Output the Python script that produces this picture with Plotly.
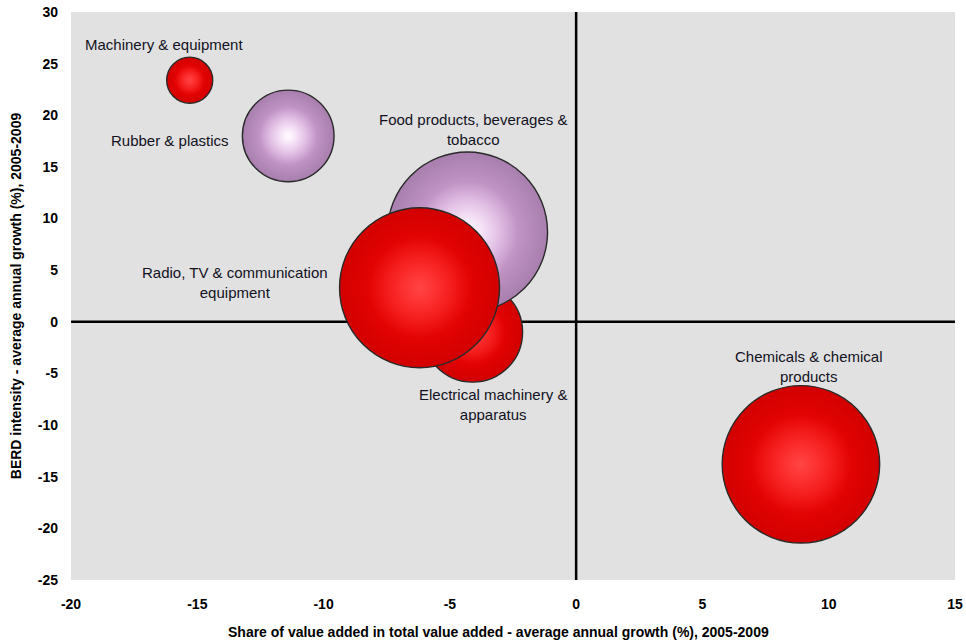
import plotly.graph_objects as go

# Sector bubbles: growth in value-added share (x) vs BERD intensity growth (y)
sectors = [
    "Machinery & equipment",
    "Rubber & plastics",
    "Electrical machinery &<br>apparatus",
    "Food products, beverages &<br>tobacco",
    "Radio, TV & communication<br>equipment",
    "Chemicals & chemical<br>products",
]
va_share_growth = [-15.3, -11.4, -4.1, -4.3, -6.2, 8.9]
berd_growth = [23.4, 18.0, -1.0, 8.7, 3.3, -13.8]
bubble_weight = [5.3, 21.0, 25.0, 64.0, 64.0, 62.0]
sector_group = ["red", "pink", "red", "pink", "red", "red"]

# label anchor positions (data units)
label_x = [-16.3, -16.1, -3.3, -4.1, -13.5, 9.2]
label_y = [26.9, 17.6, -8.0, 18.6, 3.8, -4.3]

x_ticks = [-20, -15, -10, -5, 0, 5, 10, 15]
y_ticks = [30, 25, 20, 15, 10, 5, 0, -5, -10, -15, -20, -25]

palette = {
    "red": {"rim": "#d20000", "body": "#ff0808", "light": "rgba(255,70,70,0)", "glow": "#ff4444"},
    "pink": {"rim": "#a77ead", "body": "#ebbaee", "light": "rgba(250,225,250,0)", "glow": "#ffffff"},
}

# largest weight -> ~160 px across
SIZEREF = 2.0 * 64.0 / (160.0 ** 2)

fig = go.Figure()
for name, xv, yv, w, g in zip(sectors, va_share_growth, berd_growth, bubble_weight, sector_group):
    c = palette[g]
    # sphere body, then a soft highlight on top
    fig.add_trace(go.Scatter(
        x=[xv, xv], y=[yv, yv], mode="markers", name=name.replace("<br>", " "),
        hoverinfo="skip", showlegend=False,
        marker=dict(
            size=[w, w * 0.4], sizemode="area", sizeref=SIZEREF,
            color=[c["rim"], c["light"]],
            gradient=dict(type="radial", color=[c["body"], c["glow"]]),
            line=dict(color=["#2a2a2a", "rgba(0,0,0,0)"], width=[1.4, 0]),
            opacity=1,
        ),
    ))

label_font = dict(family="Liberation Sans, Arial", size=15, color="#12121e")
annotations = [
    dict(x=lx, y=ly, text=t, showarrow=False, xref="x", yref="y",
         font=label_font, align="center")
    for t, lx, ly in zip(sectors, label_x, label_y)
]

axis_font = dict(family="Liberation Sans Narrow, Arial Narrow, Liberation Sans", size=14, color="#000000")

# x-axis title placed as paper-anchored text
annotations.append(dict(
    x=0.484, y=0, xref="paper", yref="paper", yshift=-52, yanchor="middle",
    text="<b>Share of value added in total value added - average annual growth (%), 2005-2009</b>",
    showarrow=False, font=axis_font,
))

fig.update_layout(
    width=966, height=643,
    margin=dict(l=71, r=11, t=12, b=63),
    paper_bgcolor="white",
    plot_bgcolor="#e1e1e1",
    annotations=annotations,
    shapes=[
        dict(type="line", xref="x", yref="paper", x0=0, x1=0, y0=0, y1=1,
             line=dict(color="black", width=2.5), layer="below"),
        dict(type="line", xref="paper", yref="y", x0=0, x1=1, y0=0, y1=0,
             line=dict(color="black", width=2.5), layer="below"),
    ],
    xaxis=dict(
        range=[-20, 15], tickvals=x_ticks, ticktext=[f"<b>{v}</b>" for v in x_ticks],
        showgrid=False, zeroline=False, showline=False, ticks="", automargin=False,
        tickfont=axis_font, ticklabelstandoff=14,
    ),
    yaxis=dict(
        range=[-25, 30], tickvals=y_ticks, ticktext=[f"<b>{v}</b>" for v in y_ticks],
        showgrid=False, zeroline=False, showline=False, ticks="", automargin=False,
        tickfont=axis_font, ticklabelstandoff=12,
        title=dict(text="<b>BERD intensity - average annual growth (%), 2005-2009</b>",
                   font=axis_font, standoff=12),
    ),
)

fig.write_html("out.html")
